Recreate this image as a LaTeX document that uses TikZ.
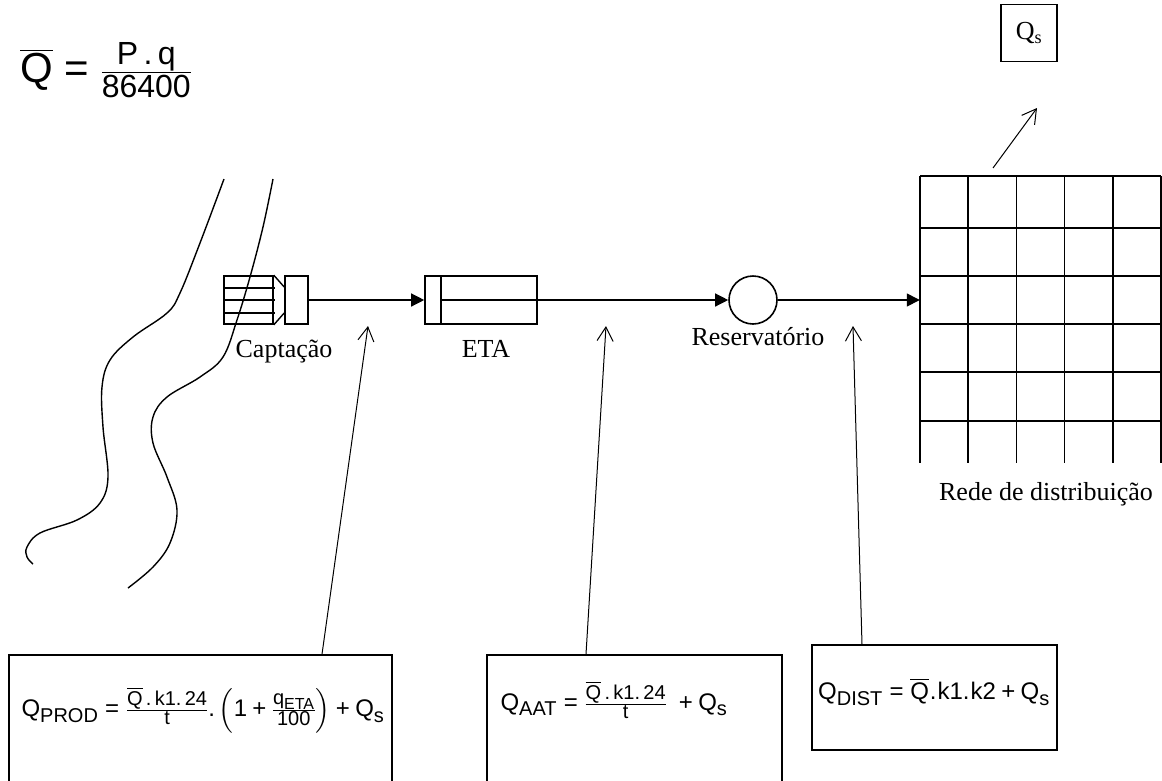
\RequirePackage{fix-cm}
\documentclass[tikz,border=0pt]{standalone}
\usepackage{amsmath}
\usepackage{fontspec}
\setmainfont{Liberation Serif}
\newfontfamily\arialfont{Liberation Sans}
\usetikzlibrary{arrows.meta, positioning}
\DeclareMathSizes{24}{24}{20}{16}
\DeclareMathSizes{42}{42}{32}{24}
\newcommand\af[1]{\text{\arialfont #1}}

\begin{document}
\begin{tikzpicture}[x=1pt, y=-1pt,
  unit/.style = {draw, line width=1.6pt, inner sep=0pt},
  lbl/.style = {font=\fontsize{26}{30}\selectfont, anchor=base, inner sep=0pt},
  eqbox/.style = {draw, line width=1.6pt, inner sep=0pt},
  eq/.style = {font=\fontsize{24}{28}\selectfont, inner sep=0pt},
  flow/.style = {line width=1.3pt, -{Triangle[length=13pt, width=13pt]}},
  up/.style = {line width=1pt, -{Straight Barb[length=14pt, width=16pt]}},
  bank/.style = {line width=1.4pt},
  grid/.style = {line width=1.6pt}
]
  \useasboundingbox (0,0) rectangle (1162,780);
  \clip (0,0) rectangle (1162,780);

  % mean flow
  \node[eq, font=\fontsize{42}{48}\selectfont] (qmed) at (106,70)
    {$\overline{\af{Q}}\mathrel{\af{=}}\frac{\af{P\,.\,q}}{\af{86400}}$};

  % river banks
  \draw[bank] plot[smooth, tension=0.6] coordinates {(224,179) (200,243) (180,293) (167,313)
    (133,337) (110,360) (102,387) (103,427) (108,477) (100,503) (77,520) (40,533) (27,547)
    (27,557) (33,564)};
  \draw[bank] plot[smooth, tension=0.6] coordinates {(273,179) (263,227) (250,277) (237,320)
    (223,357) (200,377) (167,397) (153,417) (153,443) (167,477) (177,510) (170,543)
    (153,567) (128,588)};

  % intake
  \node[unit, minimum width=49, minimum height=48] (grade) at (248.5,300) {};
  \foreach \y in {288,300,313}
    \draw[line width=1.6pt] (224,\y) -- (275,\y);
  \node[unit, minimum width=23, minimum height=48] (captacao) at (296.5,300) {};
  \draw[line width=1.4pt] (grade.north east) -- (captacao.west |- 0,287);
  \draw[line width=1.4pt] (grade.south east) -- (captacao.west |- 0,313);
  \node[lbl] (lcap) at (284,357) {Captação};

  % treatment plant
  \node[unit, minimum width=112, minimum height=48] (eta) at (481,300) {};
  \draw[line width=1.6pt] (441,276) -- (441,324);
  \draw[line width=1.6pt] (441,300) -- (eta.east);
  \node[lbl] (leta) at (486,357) {ETA};

  % reservoir
  \node[unit, circle, minimum size=48] (res) at (753,300) {};
  \node[lbl] (lres) at (758,345) {Reservatório};

  % distribution network
  \node[minimum width=241, minimum height=287, inner sep=0pt] (rede) at (1040.5,319.5) {};
  \foreach \x in {920,968.2,1016.4,1064.6,1112.8,1161}
    \draw[grid] (\x,176) -- (\x,463);
  \foreach \y in {176,228,276,324,372,421}
    \draw[grid] (920,\y) -- (1161,\y);
  \node[lbl] (lrede) at (1046,500) {Rede de distribuição};

  % flows
  \draw[flow] (captacao) -- (eta);
  \draw[flow] (eta) -- (res);
  \draw[flow] (res) -- (res -| rede.west);

  % singular flow
  \node[eqbox, minimum width=56, minimum height=57] (qs) at (1029,33)
    {\fontsize{26}{30}\selectfont Q\textsubscript{s}};
  \coordinate (qsfoot) at (993,168);
  \coordinate (qstip) at (1037,108);
  \draw[up] (qsfoot) -- (qstip);

  % formula boxes
  \node[eqbox, minimum width=383, minimum height=127] (prod) at (200.5,718.5) {};
  \node[eq] (eqprod) at (203,710)
    {$\af{Q}_{\af{PROD}}\mathrel{\af{=}}\frac{\overline{\af{Q}}\,\af{.\,k1.\,24}}{\af{t}}\af{.}\left(\af{1}\mathbin{\af{+}}\frac{\af{q}_{\af{ETA}}}{\af{100}}\right)\mathbin{\af{+}}\af{Q}_{\af{s}}$};
  \node[eqbox, minimum width=295, minimum height=127] (aat) at (634.5,718.5) {};
  \node[eq] (eqaat) at (614,700)
    {$\af{Q}_{\af{AAT}}\mathrel{\af{=}}\frac{\overline{\af{Q}}\,\af{.\,k1.\,24}}{\af{t}}\;\mathbin{\af{+}}\af{Q}_{\af{s}}$};
  \node[eqbox, minimum width=245, minimum height=105] (dist) at (934.5,697.5) {};
  \node[eq] (eqdist) at (934,692)
    {$\af{Q}_{\af{DIST}}\mathrel{\af{=}}\overline{\af{Q}}\af{\kern1pt.\kern1pt k1.\kern1pt k2}\mathbin{\af{+}}\af{Q}_{\af{s}}$};

  % pointers
  \coordinate (tprod) at (368,326);
  \coordinate (taat) at (606,326);
  \coordinate (tdist) at (853,326);
  \draw[up] ([xshift=121.5pt]prod.north) -- (tprod);
  \draw[up] ([xshift=-48.5pt]aat.north) -- (taat);
  \draw[up] ([xshift=-72.5pt]dist.north) -- (tdist);
\end{tikzpicture}
\end{document}
